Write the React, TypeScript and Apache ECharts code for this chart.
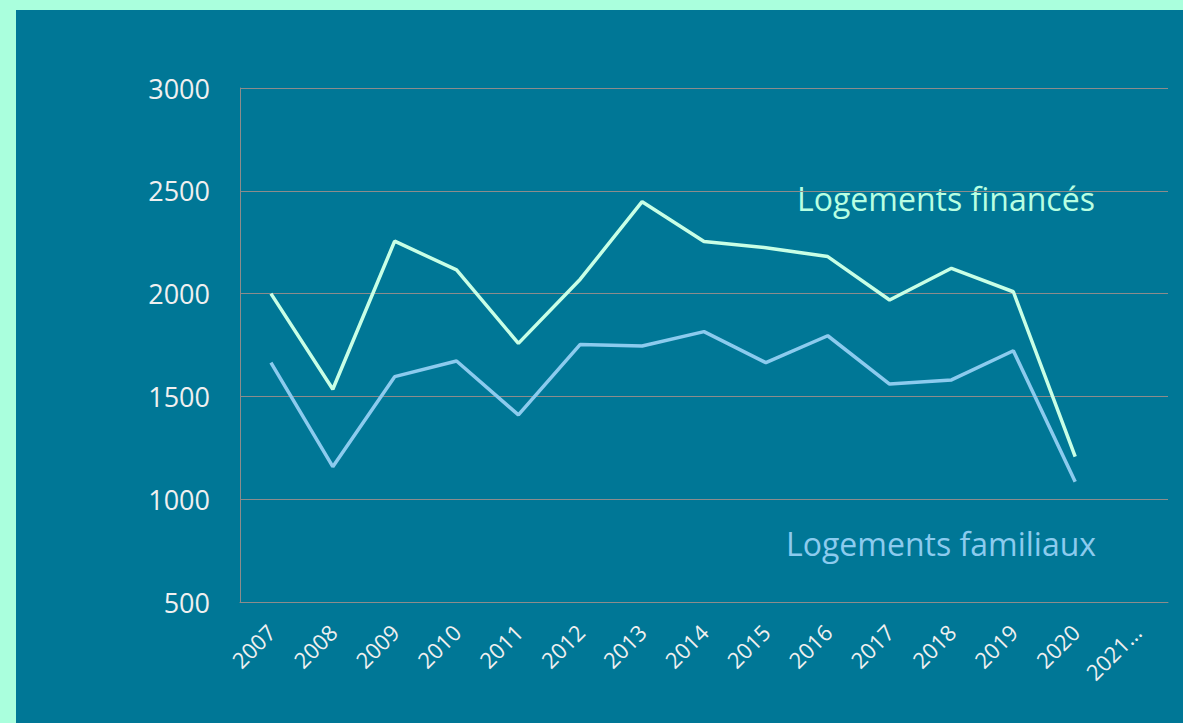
import React, { useEffect, useRef } from "react";
import * as echarts from "echarts";

const categories = ["2007", "2008", "2009", "2010", "2011", "2012", "2013", "2014", "2015", "2016", "2017", "2018", "2019", "2020", "2021…"];
const financed = [2000, 1535, 2255, 2115, 1758, 2070, 2447, 2253, 2223, 2180, 1969, 2123, 2009, 1207, null];
const familial = [1664, 1158, 1596, 1672, 1410, 1753, 1745, 1815, 1664, 1795, 1560, 1580, 1722, 1085, null];
const yMin = 500;
const yMax = 3000;
const yStep = 500;
const labelFinanced = "Logements financés";
const labelFamilial = "Logements familiaux";

export default function App() {
  const ref = useRef<HTMLDivElement>(null);
  useEffect(() => {
    document.body.style.margin = "0";
    const chart = echarts.init(ref.current!, null, { renderer: "svg" });
    const font = "'Open Sans', sans-serif";
    chart.setOption({
      animation: false,
      backgroundColor: "#aaffdd",
      graphic: [
        { type: "rect", z: -10, shape: { x: 16, y: 10, width: 1167, height: 713 }, style: { fill: "#007796" }, silent: true },
        { type: "text", x: 797, y: 198, style: { text: labelFinanced, fill: "#b8ffe2", font: `32px ${font}`, textVerticalAlign: "middle" } },
        { type: "text", x: 786, y: 543, style: { text: labelFamilial, fill: "#8ccbee", font: `32px ${font}`, textVerticalAlign: "middle" } },
      ],
      grid: { left: 240, top: 88, right: 15, bottom: 121, containLabel: false },
      xAxis: {
        type: "category",
        data: categories,
        boundaryGap: true,
        axisLine: { show: true, lineStyle: { color: "#8c8c8c", width: 1 } },
        axisTick: { show: false },
        axisLabel: { rotate: 45, color: "#f0f0f0", fontSize: 22, fontFamily: font, margin: 26, interval: 0 },
      },
      yAxis: {
        type: "value",
        min: yMin,
        max: yMax,
        interval: yStep,
        axisLine: { show: true, lineStyle: { color: "#8c8c8c", width: 1 } },
        axisTick: { show: false },
        axisLabel: { color: "#f0f0f0", fontSize: 27, fontFamily: font, margin: 30, formatter: (v: number) => String(v) },
        splitLine: { show: true, lineStyle: { color: "#8c8c8c", width: 1 } },
      },
      series: [
        {
          name: labelFinanced,
          type: "line",
          data: financed,
          symbol: "none",
          lineStyle: { color: "#c8ffe6", width: 3.5 },
          itemStyle: { color: "#c8ffe6" },
        },
        {
          name: labelFamilial,
          type: "line",
          data: familial,
          symbol: "none",
          lineStyle: { color: "#8ccbee", width: 3.5 },
          itemStyle: { color: "#8ccbee" },
        },
      ],
    });
    return () => chart.dispose();
  }, []);
  return <div ref={ref} style={{ position: "fixed", left: 0, top: 0, width: 1183, height: 723 }} />;
}
